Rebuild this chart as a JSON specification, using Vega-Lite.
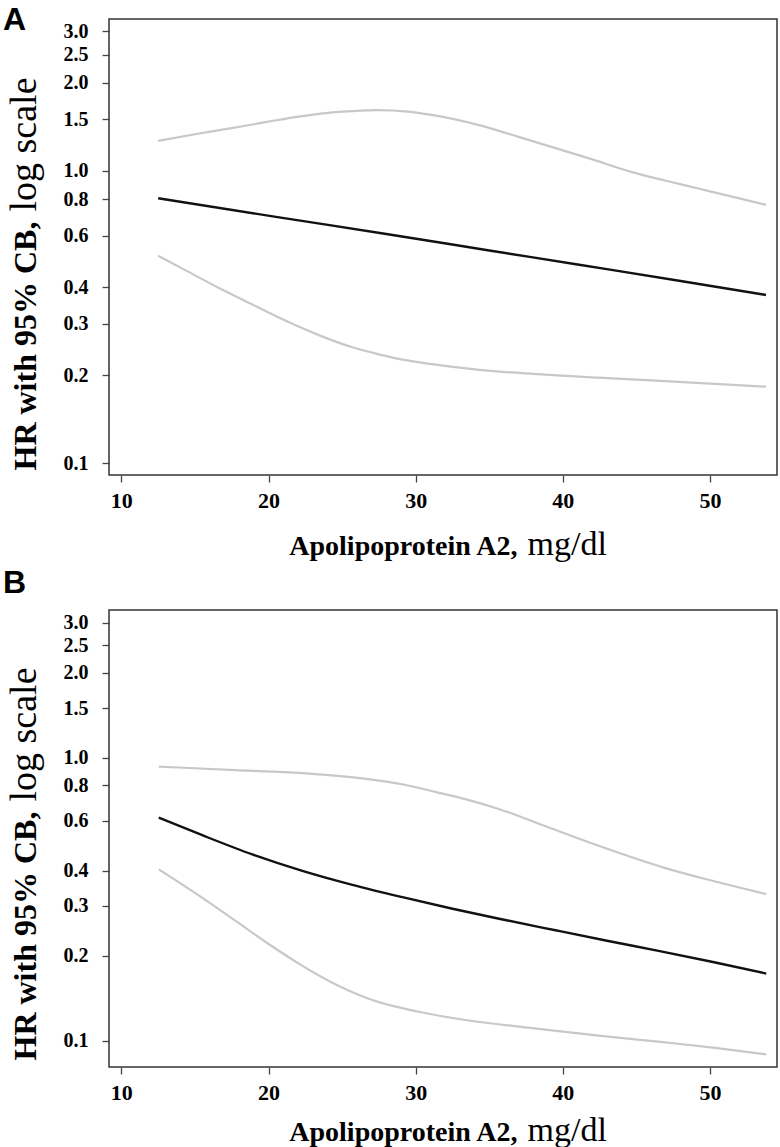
{
  "$schema": "https://vega.github.io/schema/vega-lite/v6.json",
  "padding": {"left": 2, "top": 3, "right": 5, "bottom": 0},
  "background": "white",
  "spacing": 4,
  "datasets": {
    "a": [
      {"band": "est", "x": 12.5, "hr": 0.806}, {"band": "est", "x": 20.5, "hr": 0.696}, {"band": "est", "x": 28, "hr": 0.608},
      {"band": "est", "x": 35, "hr": 0.534}, {"band": "est", "x": 41, "hr": 0.478}, {"band": "est", "x": 48, "hr": 0.42},
      {"band": "est", "x": 53.8, "hr": 0.376},
      {"band": "upper", "x": 12.5, "hr": 1.267}, {"band": "upper", "x": 15, "hr": 1.335}, {"band": "upper", "x": 17.5, "hr": 1.4},
      {"band": "upper", "x": 20, "hr": 1.475}, {"band": "upper", "x": 22.3, "hr": 1.54}, {"band": "upper", "x": 25, "hr": 1.594},
      {"band": "upper", "x": 27.3, "hr": 1.615}, {"band": "upper", "x": 29.5, "hr": 1.596}, {"band": "upper", "x": 31.1, "hr": 1.555},
      {"band": "upper", "x": 34.5, "hr": 1.426}, {"band": "upper", "x": 37, "hr": 1.307}, {"band": "upper", "x": 39, "hr": 1.218},
      {"band": "upper", "x": 42, "hr": 1.095}, {"band": "upper", "x": 44.7, "hr": 0.99}, {"band": "upper", "x": 47, "hr": 0.925},
      {"band": "upper", "x": 49.2, "hr": 0.87}, {"band": "upper", "x": 51.5, "hr": 0.816}, {"band": "upper", "x": 53.8, "hr": 0.765},
      {"band": "lower", "x": 12.5, "hr": 0.512}, {"band": "lower", "x": 14.5, "hr": 0.453}, {"band": "lower", "x": 16.6, "hr": 0.398},
      {"band": "lower", "x": 19, "hr": 0.347}, {"band": "lower", "x": 21.1, "hr": 0.308}, {"band": "lower", "x": 23.5, "hr": 0.273},
      {"band": "lower", "x": 25.7, "hr": 0.249}, {"band": "lower", "x": 27.5, "hr": 0.2355}, {"band": "lower", "x": 29.1, "hr": 0.226},
      {"band": "lower", "x": 31.1, "hr": 0.218}, {"band": "lower", "x": 34.5, "hr": 0.208}, {"band": "lower", "x": 38, "hr": 0.2018},
      {"band": "lower", "x": 42.4, "hr": 0.196}, {"band": "lower", "x": 46, "hr": 0.1917}, {"band": "lower", "x": 50, "hr": 0.187},
      {"band": "lower", "x": 53.8, "hr": 0.1825}
    ],
    "b": [
      {"band": "est", "x": 12.54, "hr": 0.615}, {"band": "est", "x": 15.5, "hr": 0.533}, {"band": "est", "x": 18.9, "hr": 0.456},
      {"band": "est", "x": 22.3, "hr": 0.399}, {"band": "est", "x": 25.7, "hr": 0.356}, {"band": "est", "x": 29.1, "hr": 0.322},
      {"band": "est", "x": 32.5, "hr": 0.293}, {"band": "est", "x": 36, "hr": 0.268}, {"band": "est", "x": 39.5, "hr": 0.246},
      {"band": "est", "x": 43, "hr": 0.226}, {"band": "est", "x": 46.5, "hr": 0.208}, {"band": "est", "x": 50.2, "hr": 0.19},
      {"band": "est", "x": 53.82, "hr": 0.173},
      {"band": "upper", "x": 12.54, "hr": 0.932}, {"band": "upper", "x": 17.74, "hr": 0.905}, {"band": "upper", "x": 22.28, "hr": 0.883},
      {"band": "upper", "x": 26.8, "hr": 0.841}, {"band": "upper", "x": 29.07, "hr": 0.807}, {"band": "upper", "x": 31.4, "hr": 0.757},
      {"band": "upper", "x": 33.37, "hr": 0.715}, {"band": "upper", "x": 35.64, "hr": 0.66}, {"band": "upper", "x": 39, "hr": 0.569},
      {"band": "upper", "x": 42.43, "hr": 0.489}, {"band": "upper", "x": 46.96, "hr": 0.408}, {"band": "upper", "x": 50.35, "hr": 0.366},
      {"band": "upper", "x": 53.82, "hr": 0.33},
      {"band": "lower", "x": 12.54, "hr": 0.404}, {"band": "lower", "x": 15.48, "hr": 0.321}, {"band": "lower", "x": 17.74, "hr": 0.266},
      {"band": "lower", "x": 20.01, "hr": 0.22}, {"band": "lower", "x": 22.28, "hr": 0.1845}, {"band": "lower", "x": 24.54, "hr": 0.1585},
      {"band": "lower", "x": 26.8, "hr": 0.141}, {"band": "lower", "x": 28.5, "hr": 0.1327}, {"band": "lower", "x": 30.2, "hr": 0.1268},
      {"band": "lower", "x": 33.37, "hr": 0.1186}, {"band": "lower", "x": 37.9, "hr": 0.111}, {"band": "lower", "x": 42.43, "hr": 0.1045},
      {"band": "lower", "x": 46.96, "hr": 0.0988}, {"band": "lower", "x": 50.35, "hr": 0.0945}, {"band": "lower", "x": 53.82, "hr": 0.0897}
    ]
  },
  "vconcat": [
    {
      "width": 668,
      "height": 456,
      "title": {"text": "A", "anchor": "start", "frame": "bounds", "font": "Liberation Sans", "fontSize": 32, "fontWeight": "bold", "color": "#000", "offset": -18, "dx": -2},
      "data": {"name": "a"},
      "layer": [
        {
          "transform": [{"filter": "datum.band !== 'est'"}],
          "mark": {"type": "line", "color": "#c8c8c8", "strokeWidth": 2.2, "interpolate": "monotone"},
          "encoding": {
            "x": {"field": "x", "type": "quantitative", "scale": {"domain": [9.16, 54.55], "nice": false, "zero": false},
              "axis": {"values": [10, 20, 30, 40, 50], "title": "Apolipoprotein A2,", "titleFontWeight": "bold", "titleFontSize": 28, "titleAlign": "right", "titleBaseline": "alphabetic", "titleX": 408, "titleY": 79}},
            "y": {"field": "hr", "type": "quantitative", "scale": {"type": "log", "domain": [0.091, 3.31], "nice": false},
              "axis": {"values": [0.1, 0.2, 0.3, 0.4, 0.6, 0.8, 1, 1.5, 2, 2.5, 3], "format": ".1f", "title": "HR with 95% CB,", "titleFontWeight": "bold", "titleFontSize": 32, "titleAlign": "left", "titleBaseline": "alphabetic", "titleAngle": -90, "titleX": -74, "titleY": 451}},
            "detail": {"field": "band"}
          }
        },
        {
          "transform": [{"filter": "datum.band === 'est'"}],
          "mark": {"type": "line", "color": "#111", "strokeWidth": 2.4, "interpolate": "monotone"},
          "encoding": {
            "x": {"field": "x", "type": "quantitative",
              "axis": {"orient": "bottom", "labels": false, "ticks": false, "domain": false, "title": "mg/dl", "titleFontWeight": "normal", "titleFontSize": 34, "titleAlign": "left", "titleBaseline": "alphabetic", "titleX": 418, "titleY": 79}},
            "y": {"field": "hr", "type": "quantitative",
              "axis": {"orient": "left", "labels": false, "ticks": false, "domain": false, "title": "log scale", "titleFontWeight": "normal", "titleFontSize": 38, "titleAlign": "left", "titleBaseline": "alphabetic", "titleAngle": -90, "titleX": -74, "titleY": 192}}
          }
        }
      ],
      "resolve": {"axis": {"x": "independent", "y": "independent"}}
    },
    {
      "width": 668,
      "height": 457,
      "title": {"text": "B", "anchor": "start", "frame": "bounds", "font": "Liberation Sans", "fontSize": 32, "fontWeight": "bold", "color": "#000", "offset": 10, "dx": -2},
      "data": {"name": "b"},
      "layer": [
        {
          "transform": [{"filter": "datum.band !== 'est'"}],
          "mark": {"type": "line", "color": "#c8c8c8", "strokeWidth": 2.2, "interpolate": "monotone"},
          "encoding": {
            "x": {"field": "x", "type": "quantitative", "scale": {"domain": [9.16, 54.55], "nice": false, "zero": false},
              "axis": {"values": [10, 20, 30, 40, 50], "title": "Apolipoprotein A2,", "titleFontWeight": "bold", "titleFontSize": 28, "titleAlign": "right", "titleBaseline": "alphabetic", "titleX": 408, "titleY": 73}},
            "y": {"field": "hr", "type": "quantitative", "scale": {"type": "log", "domain": [0.0809, 3.33], "nice": false},
              "axis": {"values": [0.1, 0.2, 0.3, 0.4, 0.6, 0.8, 1, 1.5, 2, 2.5, 3], "format": ".1f", "title": "HR with 95% CB,", "titleFontWeight": "bold", "titleFontSize": 32, "titleAlign": "left", "titleBaseline": "alphabetic", "titleAngle": -90, "titleX": -74, "titleY": 450}},
            "detail": {"field": "band"}
          }
        },
        {
          "transform": [{"filter": "datum.band === 'est'"}],
          "mark": {"type": "line", "color": "#111", "strokeWidth": 2.4, "interpolate": "monotone"},
          "encoding": {
            "x": {"field": "x", "type": "quantitative",
              "axis": {"orient": "bottom", "labels": false, "ticks": false, "domain": false, "title": "mg/dl", "titleFontWeight": "normal", "titleFontSize": 34, "titleAlign": "left", "titleBaseline": "alphabetic", "titleX": 418, "titleY": 73}},
            "y": {"field": "hr", "type": "quantitative",
              "axis": {"orient": "left", "labels": false, "ticks": false, "domain": false, "title": "log scale", "titleFontWeight": "normal", "titleFontSize": 38, "titleAlign": "left", "titleBaseline": "alphabetic", "titleAngle": -90, "titleX": -74, "titleY": 191}}
          }
        }
      ],
      "resolve": {"axis": {"x": "independent", "y": "independent"}}
    }
  ],
  "config": {
    "view": {"stroke": "#333", "strokeWidth": 1.5},
    "axis": {
      "grid": false, "domain": false, "labelOverlap": false,
      "tickColor": "#444", "tickSize": 7, "tickWidth": 1.3,
      "labelFont": "Liberation Serif", "labelFontWeight": "bold", "labelColor": "#000",
      "titleFont": "Liberation Serif", "titleColor": "#000"
    },
    "axisX": {"labelFontSize": 22, "labelPadding": 8},
    "axisY": {"labelFontSize": 20, "labelPadding": 14}
  }
}
